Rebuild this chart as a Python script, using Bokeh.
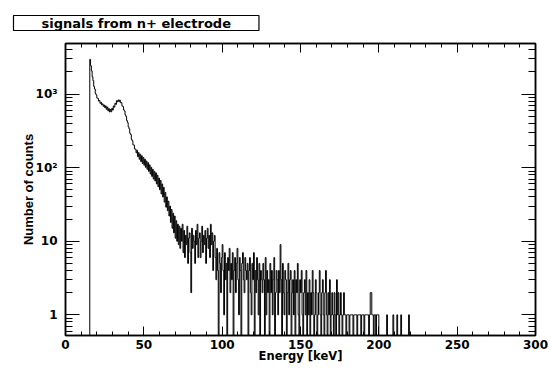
from bokeh.plotting import figure
from bokeh.models import (Range1d, LogAxis, LinearAxis, FixedTicker,
                          SingleIntervalTicker)
from bokeh.embed import file_html
from bokeh.resources import INLINE

# ---------------- data (histogram, 0.5 keV bins starting at 15.5 keV) ----------------
bin_lo = 15.5
bin_width = 0.5
counts_15 = [2960, 2420, 2060, 1710, 1520, 1270, 1170, 1010, 975, 880, 872, 802, 815, 748, 770, 712, 735, 681, 708, 652]
counts_25 = [690, 621, 665, 592, 634, 571, 618, 574, 640, 606, 688, 664, 748, 722, 812, 785, 832, 790, 826, 762]
counts_35 = [765, 690, 676, 612, 590, 521, 495, 436, 410, 358, 337, 292, 282, 242, 232, 204, 203, 180, 178, 159]
counts_45 = [172, 141, 160, 130, 152, 121, 145, 114, 137, 108, 130, 101, 123, 95, 117, 89, 109, 82, 101, 76]
counts_55 = [95, 70, 89, 66, 85, 60, 79, 55, 72, 50, 67, 44, 60, 40, 54, 34, 46, 29, 40, 26]
counts_65 = [35, 22, 30, 18, 27, 15, 24, 13, 22, 11, 19, 10, 17, 9, 16, 8, 15, 10, 17, 7]
counts_75 = [14, 6, 12, 9, 16, 5, 11, 13, 7, 2, 15, 8, 12, 10, 5, 14, 9, 17, 6, 11]
counts_85 = [13, 6, 10, 16, 7, 12, 9, 14, 5, 11, 15, 8, 12, 6, 17, 9, 13, 4, 10, 12]
counts_95 = [6, 3, 8, 4, 0, 7, 5, 2, 6, 9, 4, 1, 7, 3, 5, 0, 6, 4, 8, 2]
counts_105 = [5, 3, 7, 0, 4, 6, 2, 5, 8, 3, 1, 6, 4, 0, 5, 7, 3, 2, 6, 4]
counts_115 = [3, 5, 0, 4, 6, 2, 1, 5, 3, 7, 0, 4, 2, 6, 3, 1, 5, 0, 4, 3]
counts_125 = [2, 5, 3, 0, 6, 1, 4, 2, 3, 0, 5, 2, 4, 1, 3, 6, 0, 2, 4, 3]
counts_135 = [1, 4, 2, 9, 3, 0, 5, 2, 1, 4, 3, 0, 2, 5, 1, 3, 4, 0, 2, 3]
counts_145 = [1, 4, 0, 3, 2, 5, 1, 0, 3, 2, 4, 1, 0, 2, 3, 1, 4, 0, 2, 1]
counts_155 = [3, 0, 2, 1, 4, 2, 0, 1, 3, 2, 0, 1, 2, 4, 1, 0, 2, 3, 1, 0]
counts_165 = [2, 4, 1, 0, 2, 1, 3, 0, 1, 2, 1, 0, 2, 1, 0, 3, 1, 2, 0, 1]
counts_175 = [2, 1, 0, 1, 2, 1, 1, 0, 1, 1, 1, 0, 1, 1, 1, 1, 0, 1, 1, 1]
counts_185 = [1, 0, 1, 1, 1, 1, 0, 1, 1, 1, 0, 1, 1, 1, 1, 1, 0, 1, 2, 2]
counts_195 = [1, 1, 0, 1, 1, 0, 1, 1, 1, 0, 0, 0, 0, 0, 0, 0, 0, 0, 0, 1]
counts_205 = [0, 0, 0, 0, 0, 0, 0, 1, 0, 0, 0, 0, 1, 0, 0, 0, 0, 1, 0, 0]
counts_215 = [0, 0, 0, 0, 0, 0, 0, 1, 0, 0]

x_ticks = [0, 50, 100, 150, 200, 250, 300]
y_ticks = [1, 10, 100, 1000]
y_tick_labels = ["1", "10", "10\u00b2", "10\u00b3"]
title_text = "signals from n+ electrode"
x_title = "Energy [keV]"
y_title = "Number of counts"

counts = (counts_15 + counts_25 + counts_35 + counts_45 + counts_55 + counts_65 +
          counts_75 + counts_85 + counts_95 + counts_105 + counts_115 + counts_125 +
          counts_135 + counts_145 + counts_155 + counts_165 + counts_175 + counts_185 +
          counts_195 + counts_205 + counts_215)

Y_MIN, Y_MAX = 0.524, 4860
FLOOR = 0.1  # empty bins drop below the frame (clipped), like ROOT

# histogram outline
hx, hy = [bin_lo], [FLOOR]
for i, c in enumerate(counts):
    x0 = bin_lo + i * bin_width
    v = c if c > 0 else FLOOR
    hx += [x0, x0 + bin_width]
    hy += [v, v]
hx.append(bin_lo + len(counts) * bin_width)
hy.append(FLOOR)

p = figure(width=551, height=372, x_range=Range1d(0, 300), y_range=Range1d(Y_MIN, Y_MAX),
           y_axis_type="log", output_backend="svg", toolbar_location=None,
           title=title_text,
           min_border_left=65, min_border_right=16, min_border_top=43, min_border_bottom=37)
p.background_fill_color = "white"
p.border_fill_color = "white"
p.outline_line_color = "black"
p.outline_line_width = 1.5
p.xgrid.visible = False
p.ygrid.visible = False

# title box (ROOT style pave)
t = p.title
t.text_font = "DejaVu Sans"
t.text_font_style = "bold"
t.text_font_size = "13px"
t.text_color = "black"
t.align = "left"
t.offset = -52
t.standoff = 26
t.background_fill_color = "white"
t.border_line_color = "black"
t.border_line_width = 1.2
t.padding = (28, 0)

p.line(hx, hy, line_color="black", line_width=1)

minor_y = [m * d for d in (0.1, 1, 10, 100, 1000) for m in range(2, 10)]
yticker = FixedTicker(ticks=y_ticks, minor_ticks=minor_y)
xticker = SingleIntervalTicker(interval=50, num_minor_ticks=5)

def style_x(ax, labels=True):
    ax.ticker = xticker
    ax.axis_line_color = "black"
    ax.axis_line_width = 1.5
    ax.major_tick_in = 9
    ax.major_tick_out = 0
    ax.minor_tick_in = 4
    ax.minor_tick_out = 0
    ax.major_tick_line_color = "black"
    ax.minor_tick_line_color = "black"
    ax.major_label_text_font = "DejaVu Sans"
    ax.major_label_text_font_style = "bold"
    ax.major_label_text_font_size = "12px"
    ax.major_label_text_color = "black"
    if labels:
        ax.major_label_standoff = 4
    else:
        ax.major_label_overrides = {t: "" for t in x_ticks}
        ax.major_label_standoff = 0

def style_y(ax, labels=True):
    ax.ticker = yticker
    ax.axis_line_color = "black"
    ax.axis_line_width = 1.5
    ax.major_tick_in = 14
    ax.major_tick_out = 0
    ax.minor_tick_in = 7
    ax.minor_tick_out = 0
    ax.major_tick_line_color = "black"
    ax.minor_tick_line_color = "black"
    ax.major_label_text_font = "DejaVu Sans"
    ax.major_label_text_font_style = "bold"
    ax.major_label_text_font_size = "12px"
    ax.major_label_text_color = "black"
    if labels:
        ax.major_label_overrides = dict(zip(y_ticks, y_tick_labels))
        ax.major_label_standoff = 8
    else:
        ax.major_label_overrides = {t: "" for t in y_ticks}
        ax.major_label_standoff = 0

xa = p.xaxis[0]
style_x(xa)
xa.axis_label = x_title
xa.axis_label_text_font = "DejaVu Sans"
xa.axis_label_text_font_style = "bold"
xa.axis_label_text_font_size = "11.5px"
xa.axis_label_text_color = "black"
xa.axis_label_standoff = -3

ya = p.yaxis[0]
style_y(ya)
ya.axis_label = y_title
ya.axis_label_text_font = "Liberation Sans"
ya.axis_label_text_font_style = "bold"
ya.axis_label_text_font_size = "13px"
ya.axis_label_text_color = "black"
ya.axis_label_standoff = -3

top_ax = LinearAxis()
style_x(top_ax, labels=False)
p.add_layout(top_ax, "above")
right_ax = LogAxis()
style_y(right_ax, labels=False)
p.add_layout(right_ax, "right")

open("out.html", "w").write(file_html(p, INLINE))
